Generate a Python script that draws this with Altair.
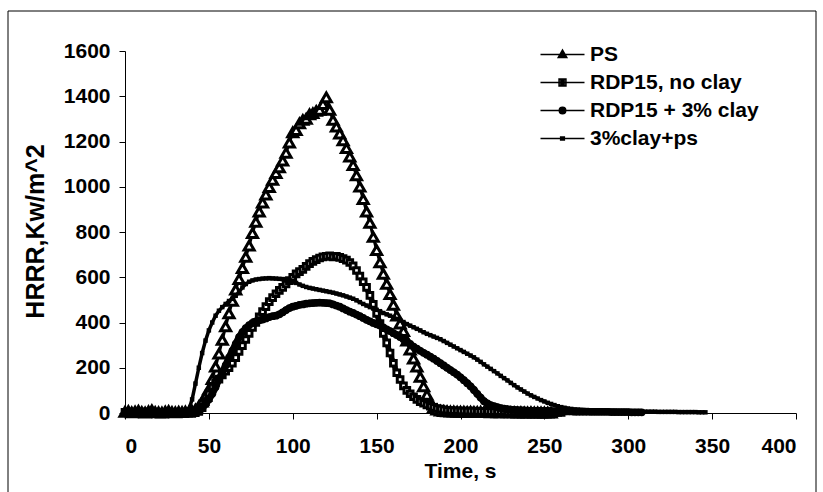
import altair as alt
import pandas as pd

series_names = ["PS", "RDP15, no clay", "RDP15 + 3% clay", "3%clay+ps"]
time_step_s = 2
x_ticks = [0, 50, 100, 150, 200, 250, 300, 350, 400]
y_ticks = [0, 200, 400, 600, 800, 1000, 1200, 1400, 1600]

ps = [5, 8, 3, 6, 10, 4, 2, 7, 12, 4, 3, 2, 6, 9, 4, 3, 5, 4, 6, 5,
      8, 15, 30, 50, 75, 105, 150, 205, 262, 323, 383, 440, 495, 545, 592, 640, 690, 740, 795, 845,
      890, 930, 965, 998, 1030, 1060, 1085, 1115, 1150, 1195, 1240, 1250, 1280, 1295, 1300, 1320, 1325, 1335, 1340, 1365,
      1395, 1340, 1295, 1265, 1235, 1205, 1170, 1133, 1095, 1050, 1000, 945, 890, 840, 778, 720, 665, 615, 570, 525,
      478, 430, 395, 362, 320, 280, 240, 205, 160, 118, 80, 45, 25, 15, 10, 8, 7, 6, 6, 5,
      5, 5, 4, 5, 4, 4, 5, 4, 4, 3, 4, 3, 3, 4, 3, 3, 3, 2, 3, 2, 2, 3, 2, 2, 2, 2, 2, 2]

rdp_no_clay = [3, 2, 4, 3, 2, 3, 5, 3, 2, 4, 3, 2, 3, 4, 2, 3, 3, 2, 4, 3, 3, 4,
               8, 25, 50, 85, 115, 135, 150, 168, 185, 200, 220, 245, 272, 298, 325, 352, 378, 400,
               425, 448, 470, 492, 510, 527, 542, 555, 570, 585, 600, 615, 625, 635, 648, 660, 670, 678, 685, 690,
               692, 695, 690, 693, 688, 682, 676, 665, 650, 630, 605, 580, 555, 520, 480, 440, 395, 352, 310, 265,
               220, 178, 148, 120, 100, 85, 72, 60, 50, 43, 36, 30, 25, 20, 17, 14, 12, 11, 10, 10,
               9, 9, 8, 8, 8, 7, 7, 7, 7, 6, 6, 6, 6, 6, 5, 5, 5, 5, 5, 5, 4, 4, 4, 4, 4, 4, 4, 3, 3, 3, 3]

rdp_3clay = [2, 3, 4, 2, 3, 3, 2, 4, 3, 3, 2, 3, 4, 3, 2, 3, 3, 4, 3, 2, 3, 4,
             8, 20, 40, 60, 85, 115, 150, 180, 210, 245, 275, 305, 335, 358, 375, 388, 398, 405,
             410, 413, 418, 424, 428, 430, 436, 445, 455, 464, 470, 474, 478, 480, 483, 485, 486, 487, 488, 487,
             486, 485, 480, 475, 470, 462, 455, 448, 442, 435, 428, 420, 412, 405, 398, 392, 387, 378, 370, 362,
             353, 345, 336, 326, 316, 305, 293, 284, 275, 266, 258, 249, 240, 230, 220, 210, 200, 190, 180, 170,
             158, 145, 132, 118, 102, 85, 68, 52, 42, 35, 30, 26, 22, 19, 17, 15,
             14, 13, 12, 12, 11, 11, 10, 10, 9, 9, 9, 8, 8, 8, 7, 7, 7, 7, 6, 6, 6, 6, 6, 5, 5, 5, 5, 5, 5,
             4, 4, 4, 4, 4, 4, 3, 3, 3, 3]

clay_ps = [3, 4, 2, 3, 5, 3, 2, 4, 3, 2, 3, 4, 3, 2, 3, 4, 3, 3, 5,
           15, 60, 130, 200, 265, 320, 365, 400, 430, 452, 468, 482, 495, 505, 518, 535, 555, 570, 580, 586,
           590, 592, 594, 595, 596, 595, 594, 593, 592, 590, 588, 582, 575, 568, 562, 557, 553, 550, 547, 544,
           541, 538, 535, 532, 528, 524, 520, 515, 510, 505, 498, 490, 482, 475, 468, 462, 456, 450, 442, 436,
           430, 423, 416, 410, 402, 393, 386, 379, 372, 365, 357, 350, 344, 338, 332, 326, 318, 310, 302, 294,
           286, 278, 270, 262, 254, 246, 236, 226, 215, 205, 195, 185, 175, 164, 154, 144, 133, 123, 113, 104,
           95, 86, 78, 71, 64, 57, 51, 45, 40, 35, 30, 26, 23, 20, 18, 16, 15, 14, 13,
           12, 12, 11, 11, 10, 10, 9, 9, 9, 8, 8, 8, 7, 7, 7, 7, 6, 6, 6, 6, 6, 5, 5, 5, 5, 5, 5,
           4, 4, 4, 4, 4, 4, 3, 3, 3]

legend_paths = [
    "M-5.5,0H5.5M0,-1.1L1.05,0.75H-1.05ZM0,-0.5L0.45,0.35H-0.45Z",
    "M-5.5,0H5.5M-0.85,-0.85H0.85V0.85H-0.85ZM-0.4,-0.4H0.4V0.4H-0.4Z",
    "M-5.5,0H5.5M-0.8,0A0.8,0.8 0 1,0 0.8,0A0.8,0.8 0 1,0 -0.8,0M-0.4,0A0.4,0.4 0 1,0 0.4,0A0.4,0.4 0 1,0 -0.4,0",
    "M-5.5,0H5.5M-0.45,-0.35H0.45V0.35H-0.45Z",
]

rows = []
for name, vals in zip(series_names, [ps, rdp_no_clay, rdp_3clay, clay_ps]):
    for i, v in enumerate(vals):
        rows.append({"Time": i * time_step_s, "HRR": v, "Series": name})
df = pd.DataFrame(rows)

FONT = "Liberation Sans"

x_enc = alt.X("Time:Q",
              scale=alt.Scale(domain=[0, 400], nice=False, zero=False),
              axis=alt.Axis(values=x_ticks, title="Time, s", grid=False, format="d",
                            tickSize=6, labelPadding=16, titleX=335, titleY=58,
                            titleBaseline="middle", titleAnchor="middle"))
y_enc = alt.Y("HRR:Q",
              scale=alt.Scale(domain=[0, 1600], nice=False),
              axis=alt.Axis(values=y_ticks, title="HRRR,Kw/m^2", grid=False, format="d",
                            tickSize=6, labelPadding=9, titleX=-90, titleY=180,
                            titleFontSize=25,
                            titleAngle=270, titleBaseline="middle", titleAlign="center"))

base = alt.Chart(df)

def sel(name):
    return base.transform_filter(alt.datum.Series == name)

layers = []
# PS: open triangles
layers.append(sel("PS").mark_line(color="black", strokeWidth=3).encode(x=x_enc, y=y_enc, order="Time:Q"))
layers.append(sel("PS").mark_point(shape="triangle-up", size=100, filled=True, fill="white",
                                   stroke="black", strokeWidth=3, opacity=1).encode(x="Time:Q", y="HRR:Q"))
# RDP15, no clay: open squares
layers.append(sel("RDP15, no clay").mark_line(color="black", strokeWidth=5.5).encode(x="Time:Q", y="HRR:Q", order="Time:Q"))
layers.append(sel("RDP15, no clay").mark_point(shape="square", size=32, filled=True, fill="white",
                                               stroke="black", strokeWidth=3, opacity=1).encode(x="Time:Q", y="HRR:Q"))
# RDP15 + 3% clay: filled circles
layers.append(sel("RDP15 + 3% clay").mark_line(color="black", strokeWidth=7).encode(x="Time:Q", y="HRR:Q", order="Time:Q"))
layers.append(sel("RDP15 + 3% clay").mark_circle(size=60, color="black", opacity=1).encode(x="Time:Q", y="HRR:Q"))
# 3%clay+ps: small dots
layers.append(sel("3%clay+ps").mark_line(color="black", strokeWidth=3.5).encode(x="Time:Q", y="HRR:Q", order="Time:Q"))
layers.append(sel("3%clay+ps").mark_square(size=20, color="black", opacity=1).encode(x="Time:Q", y="HRR:Q"))

# legend carrier layer (no visible data)
legend_layer = base.transform_filter(alt.datum.Series == "__none__").mark_point(
    color="black", opacity=1, strokeWidth=1.5).encode(
    x="Time:Q", y="HRR:Q",
    shape=alt.Shape("Series:N",
                    scale=alt.Scale(domain=series_names, range=legend_paths),
                    legend=alt.Legend(orient="none", legendX=427, legendY=-7, title=None,
                                      symbolSize=64, symbolStrokeWidth=1.6, symbolStrokeColor="black",
                                      labelFont=FONT, labelFontSize=21, labelFontWeight="bold",
                                      labelColor="black", labelOffset=17, rowPadding=6,
                                      padding=0, labelLimit=400)))
layers.append(legend_layer)

# outer frame
frame_df = pd.DataFrame({"k": [0]})
frame_left = alt.Chart(frame_df).mark_rule(color="black", strokeWidth=1).encode(
    x=alt.value(-117), y=alt.value(-40), y2=alt.value(441))
frame_top = alt.Chart(frame_df).mark_rule(color="black", strokeWidth=1).encode(
    x=alt.value(-117), x2=alt.value(691), y=alt.value(-40))
frame_right = alt.Chart(frame_df).mark_rule(color="black", strokeWidth=1).encode(
    x=alt.value(691), y=alt.value(-40), y2=alt.value(441))
layers += [frame_left, frame_top, frame_right]

chart = alt.layer(*layers).properties(
    width=671, height=362,
    autosize=alt.AutoSizeParams(type="none"),
    padding={"left": 125, "top": 51, "right": 27, "bottom": 79},
    background="white",
).configure_view(stroke=None).configure_axis(
    domainColor="black", tickColor="black", domainWidth=1, tickWidth=1,
    labelFont=FONT, labelFontSize=21, labelFontWeight="bold", labelColor="black",
    titleFont=FONT, titleFontSize=21, titleFontWeight="bold", titleColor="black",
)

chart.save("out.html", embed_options={"renderer": "svg", "actions": False})
